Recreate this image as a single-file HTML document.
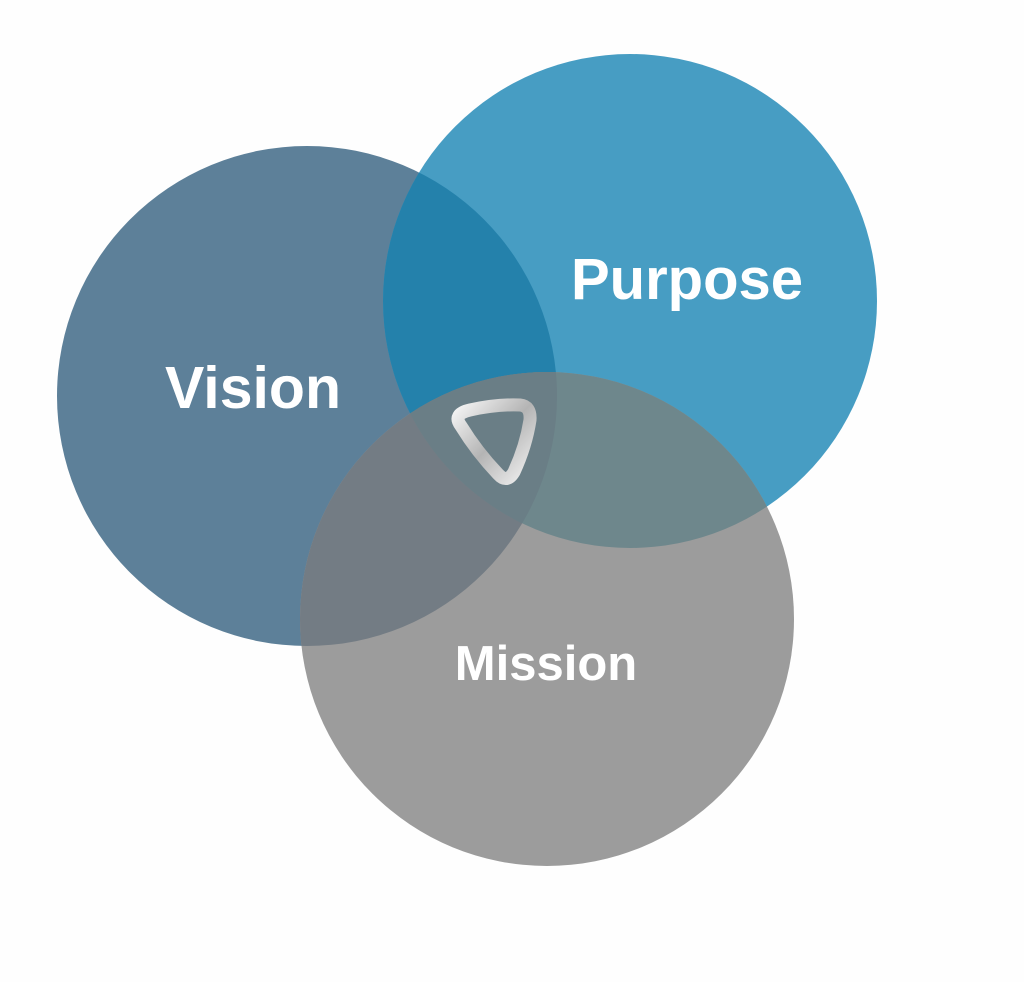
<!DOCTYPE html>
<html><head><meta charset="utf-8"><style>
html,body{margin:0;padding:0;background:#fefefe;}
svg{display:block}
text{font-family:"Liberation Sans",sans-serif;font-weight:bold;fill:#fff}
</style></head><body>
<svg width="1024" height="982" viewBox="0 0 1024 982" xmlns="http://www.w3.org/2000/svg">
<defs>
<clipPath id="cv"><circle cx="307" cy="396" r="250"/></clipPath>
<clipPath id="cp"><circle cx="630" cy="301" r="247"/></clipPath>
<linearGradient id="lg" x1="0" y1="0" x2="1" y2="1">
<stop offset="0" stop-color="#f4f4f4"/><stop offset="0.5" stop-color="#b4b4b4"/><stop offset="1" stop-color="#f0f0f0"/>
</linearGradient>
</defs>
<rect width="1024" height="982" fill="#fefefe"/>
<circle cx="307" cy="396" r="250" fill="#5d8099"/>
<circle cx="630" cy="301" r="247" fill="#479dc3"/>
<circle cx="547" cy="619" r="247" fill="#9c9c9c"/>
<g clip-path="url(#cv)"><circle cx="630" cy="301" r="247" fill="#2481ab"/><circle cx="547" cy="619" r="247" fill="#737c84"/></g>
<g clip-path="url(#cp)"><circle cx="547" cy="619" r="247" fill="#6e878c"/></g>
<g clip-path="url(#cv)"><g clip-path="url(#cp)"><circle cx="547" cy="619" r="247" fill="#6a7e86"/></g></g>
<path d="M461,426 Q452,414 470,410 Q497,404 520,405 Q531,406 530,420 Q526,446 514,472 Q507,484 498,474 Q477,452 461,426 Z" fill="none" stroke="url(#lg)" stroke-width="13" stroke-linejoin="round"/>
<text x="253" y="408" font-size="59" text-anchor="middle">Vision</text>
<text x="687" y="299" font-size="58" text-anchor="middle">Purpose</text>
<text x="546" y="680" font-size="49" text-anchor="middle">Mission</text>
</svg>
</body></html>
